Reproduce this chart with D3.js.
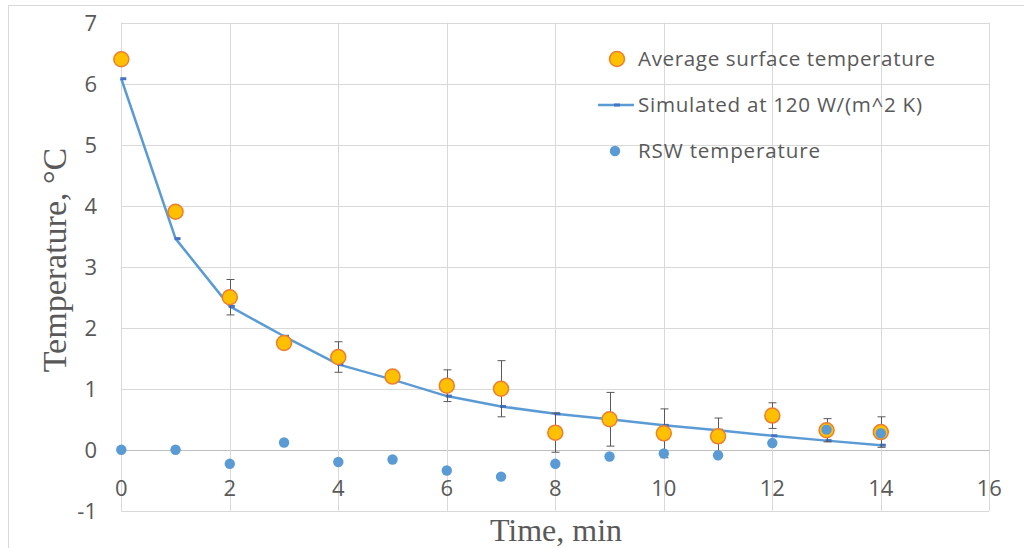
<!DOCTYPE html>
<html><head><meta charset="utf-8">
<script src="https://cdn.jsdelivr.net/npm/d3@7"></script>
<style>body{margin:0;background:#fff}svg{display:block}</style>
</head><body>
<svg id="c" width="1024" height="548"></svg>
<script>
const times = [0,1,2,3,4,5,6,7,8,9,10,11,12,13,14];
const avgSurface = [6.4,3.9,2.5,1.75,1.52,1.2,1.05,1.0,0.28,0.5,0.27,0.22,0.56,0.32,0.29];
const avgError = [0,0,0.29,0.1,0.25,0.05,0.26,0.46,0.32,0.44,0.4,0.3,0.21,0.19,0.25];
const simulated = [6.08,3.46,2.35,1.86,1.4,1.15,0.88,0.71,0.59,0.5,0.4,0.32,0.23,0.15,0.075];
const rswTemp = [0,0,-0.23,0.12,-0.2,-0.16,-0.34,-0.44,-0.23,-0.11,-0.06,-0.09,0.11,0.33,0.27];
const xTicks = [0,2,4,6,8,10,12,14,16];
const yTicks = [-1,0,1,2,3,4,5,6,7];
const legendLabels = ["Average surface temperature","Simulated at 120 W/(m^2 K)","RSW temperature"];

const svg = d3.select("#c");
const x = d3.scaleLinear().domain([0,16]).range([121.3,989.3]);
const y = d3.scaleLinear().domain([-1,7]).range([510.8,22.6]);

svg.append("rect").attr("x",8.5).attr("y",5.5).attr("width",1030).attr("height",560)
  .attr("fill","none").attr("stroke","#d9d9d9");

const grid = svg.append("g");
grid.selectAll(".hy").data(yTicks).join("line")
  .attr("x1",x(0)).attr("x2",x(16)).attr("y1",d=>Math.round(y(d))+0.5).attr("y2",d=>Math.round(y(d))+0.5)
  .attr("stroke",d=>d===0?"#bfbfbf":"#d9d9d9").attr("stroke-width",1);
grid.selectAll(".vx").data(xTicks).join("line")
  .attr("y1",y(-1)).attr("y2",y(7)).attr("x1",d=>Math.round(x(d))+0.5).attr("x2",d=>Math.round(x(d))+0.5)
  .attr("stroke","#d9d9d9").attr("stroke-width",1);

const tickFont = "'Open Sans', sans-serif";
svg.append("g").selectAll("text").data(yTicks).join("text")
  .attr("x",97).attr("y",d=>y(d)).attr("dy","0.36em").attr("text-anchor","end")
  .attr("font-family",tickFont).attr("font-size",22).attr("fill","#595959").text(d=>d);
svg.append("g").selectAll("text").data(xTicks).join("text")
  .attr("x",d=>x(d)).attr("y",496).attr("text-anchor","middle")
  .attr("font-family",tickFont).attr("font-size",22).attr("fill","#595959").text(d=>d);

svg.append("text").attr("transform","translate(66,260) rotate(-90)").attr("text-anchor","middle")
  .attr("font-family","'Liberation Serif', serif").attr("font-size",34).attr("fill","#595959")
  .text("Temperature, \u00B0C");
svg.append("text").attr("x",556).attr("y",541).attr("text-anchor","middle")
  .attr("font-family","'Liberation Serif', serif").attr("font-size",32).attr("fill","#595959")
  .text("Time, min");

// simulated line
const line = d3.line().x((d,i)=>x(times[i])).y(d=>y(d));
svg.append("path").datum(simulated).attr("d",line).attr("fill","none")
  .attr("stroke","#5B9BD5").attr("stroke-width",2.5).attr("stroke-linejoin","round");
svg.append("g").selectAll("rect").data(simulated).join("rect")
  .attr("x",(d,i)=>x(times[i])-1).attr("y",d=>y(d)-1.5).attr("width",6).attr("height",3)
  .attr("fill","#4472C4");

// error bars
const eb = svg.append("g").attr("stroke","#595959").attr("stroke-width",1);
avgSurface.forEach((v,i)=>{
  const e = avgError[i]; if(!e) return;
  const cx = Math.round(x(times[i]))+0.5;
  eb.append("line").attr("x1",cx).attr("x2",cx).attr("y1",y(v+e)).attr("y2",y(v-e));
  eb.append("line").attr("x1",cx-4).attr("x2",cx+4).attr("y1",y(v+e)).attr("y2",y(v+e));
  eb.append("line").attr("x1",cx-4).attr("x2",cx+4).attr("y1",y(v-e)).attr("y2",y(v-e));
});

svg.append("g").selectAll("circle").data(avgSurface).join("circle")
  .attr("cx",(d,i)=>x(times[i])).attr("cy",d=>y(d)).attr("r",7.5)
  .attr("fill","#FFC000").attr("stroke","#ED7D31").attr("stroke-width",1.5);

svg.append("g").selectAll("circle").data(rswTemp).join("circle")
  .attr("cx",(d,i)=>x(times[i])).attr("cy",d=>y(d)).attr("r",5.2)
  .attr("fill","#5B9BD5");

// legend
const lg = svg.append("g").attr("font-family",tickFont).attr("font-size",20.6).attr("fill","#595959");
const ly = [59,105,151];
lg.append("circle").attr("cx",617).attr("cy",ly[0]).attr("r",7.5).attr("fill","#FFC000").attr("stroke","#ED7D31").attr("stroke-width",1.5);
lg.append("line").attr("x1",598).attr("x2",634).attr("y1",ly[1]).attr("y2",ly[1]).attr("stroke","#5B9BD5").attr("stroke-width",2.5);
lg.append("rect").attr("x",614).attr("y",ly[1]-1.5).attr("width",6).attr("height",3).attr("fill","#4472C4");
lg.append("circle").attr("cx",615).attr("cy",ly[2]).attr("r",5.2).attr("fill","#5B9BD5");
lg.selectAll("text").data(legendLabels).join("text")
  .attr("x",638).attr("y",(d,i)=>ly[i]).attr("dy","0.36em")
  .attr("textLength",(d,i)=>[297,284,182][i]).attr("lengthAdjust","spacing").text(d=>d);
</script>
</body></html>
